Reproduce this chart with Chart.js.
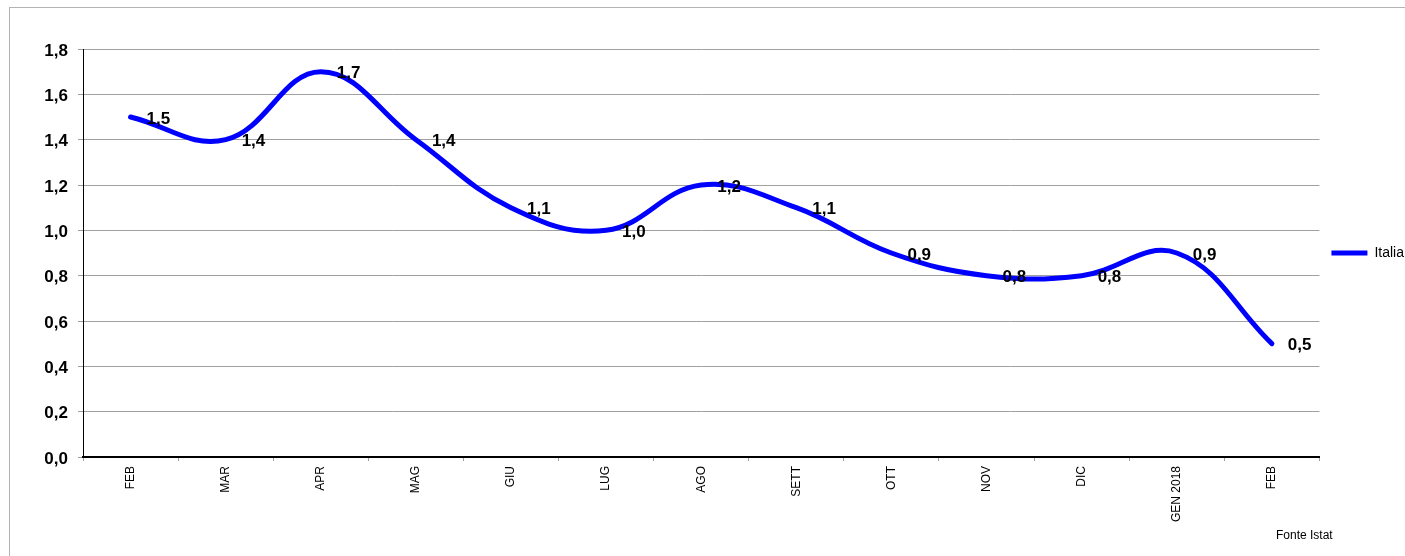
<!DOCTYPE html>
<html>
<head>
<meta charset="utf-8">
<title>Italia</title>
<script src="https://cdn.jsdelivr.net/npm/chart.js@4"></script>
<style>
  html, body { margin: 0; padding: 0; background: #fff; overflow: hidden; }
  #wrap { position: relative; width: 1405px; height: 556px; overflow: hidden; }
  #frame { position: absolute; left: 9px; top: 7px; width: 1500px; height: 700px; border: 1px solid #b3b3b3; }
  #grafico { position: absolute; left: 0; top: 0; }
  #fonte { position: absolute; left: 1276px; top: 528px; font: 12px "Liberation Sans", Arial, sans-serif; color: #000; }
</style>
</head>
<body>
<div id="wrap">
  <div id="frame"></div>
  <canvas id="grafico" width="1405" height="556"></canvas>
  <div id="fonte">Fonte Istat</div>
</div>
<script>
// mesi e valori della serie
var mesi = ['FEB', 'MAR', 'APR', 'MAG', 'GIU', 'LUG', 'AGO', 'SETT', 'OTT', 'NOV', 'DIC', 'GEN 2018', 'FEB'];
var italia = [1.5, 1.4, 1.7, 1.4, 1.1, 1.0, 1.2, 1.1, 0.9, 0.8, 0.8, 0.9, 0.5];
var yTicks = ['0,0', '0,2', '0,4', '0,6', '0,8', '1,0', '1,2', '1,4', '1,6', '1,8'];

var FONT = '"Liberation Sans", Arial, sans-serif';

// etichette dei valori a destra di ogni punto
var etichette = {
  id: 'etichette',
  afterDatasetsDraw(chart) {
    var ctx = chart.ctx;
    var meta = chart.getDatasetMeta(0);
    ctx.save();
    ctx.font = 'bold 17px ' + FONT;
    ctx.fillStyle = '#000';
    ctx.textBaseline = 'middle';
    meta.data.forEach(function(pt, i) {
      ctx.fillText(italia[i].toFixed(1).replace('.', ','), pt.x + 16, pt.y + 2);
    });
    ctx.restore();
  }
};

new Chart(document.getElementById('grafico').getContext('2d'), {
  type: 'line',
  data: {
    labels: mesi,
    datasets: [{
      label: 'Italia',
      data: italia,
      borderColor: '#0000ff',
      backgroundColor: '#0000ff',
      borderWidth: 5,
      borderCapStyle: 'round',
      borderJoinStyle: 'round',
      tension: 0.4,
      pointRadius: 0,
      fill: false
    }]
  },
  options: {
    responsive: false,
    animation: false,
    devicePixelRatio: 1,
    // il margine destro negativo lascia la legenda quasi a filo del bordo
    layout: { padding: { top: 49, left: 9, right: -9, bottom: 0 } },
    plugins: {
      legend: {
        position: 'right',
        align: 'center',
        fullSize: false,
        labels: {
          usePointStyle: true,
          pointStyle: 'line',
          pointStyleWidth: 36,
          padding: 12,
          color: '#000',
          font: { size: 14, family: FONT }
        }
      },
      tooltip: { enabled: false }
    },
    scales: {
      x: {
        offset: true,
        grid: {
          offset: true,
          drawOnChartArea: false,
          drawTicks: true,
          tickLength: 4,
          color: '#a0a0a0'
        },
        border: { color: '#000', width: 2 },
        ticks: {
          minRotation: 90,
          maxRotation: 90,
          autoSkip: false,
          padding: 5,
          color: '#000',
          font: { size: 12, family: FONT }
        },
        afterFit(scale) { scale.height = 99; }
      },
      y: {
        min: 0,
        max: 1.8,
        grid: {
          color: '#a0a0a0',
          tickLength: 5
        },
        border: { color: '#000', width: 1 },
        ticks: {
          stepSize: 0.2,
          padding: 10,
          labelOffset: 2,
          color: '#000',
          font: { size: 17, weight: 'bold', family: FONT },
          callback: function(value, index) { return yTicks[index]; }
        },
        afterFit(scale) { scale.width = 74; }
      }
    }
  },
  plugins: [etichette]
});
</script>
</body>
</html>
